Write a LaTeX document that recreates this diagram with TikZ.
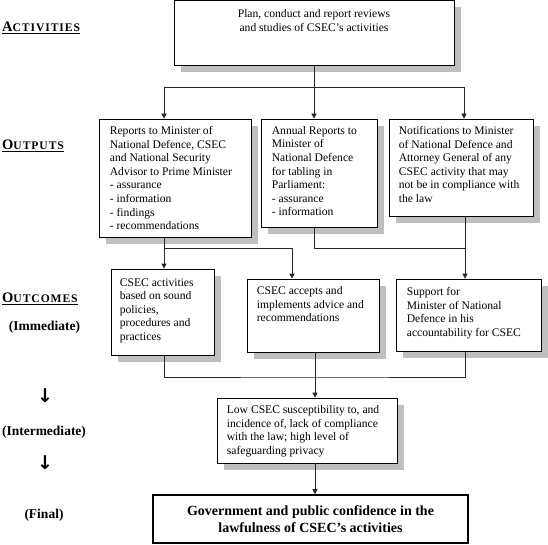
\documentclass[tikz,border=0pt]{standalone}
\usepackage{fontspec}
\setmainfont{Liberation Serif}
\newfontfamily\headfont[LetterSpace = 8]{Liberation Serif}
\newfontfamily\arrowfont{DejaVu Sans}
\usetikzlibrary{arrows.meta, shadows}

\newsavebox\headbox
\newcommand{\heading}[2]{\sbox\headbox{\headfont\bfseries{\fontsize{14.5}{16}\selectfont #1}{\fontsize{11.6}{13}\selectfont #2}}\vtop{\copy\headbox \kern 1pt \hrule height 1.3pt width \wd\headbox}}

\begin{document}
\begin{tikzpicture}[> = {Triangle[length = 5pt, width = 5pt]}, x = 1pt, y = -1pt,
	box/.style = {draw, fill = white, line width = 0.7pt, inner sep = 0pt, drop shadow = {shadow xshift = 7pt, shadow yshift = -7pt, fill = gray!50, opacity = 1}},
	txt/.style = {anchor = north west, inner sep = 0pt, align = left, font = \fontsize{11.6}{13.6}\selectfont},
	head/.style = {anchor = base west, inner sep = 0pt},
	stage/.style = {inner sep = 0pt, font = \fontsize{13.5}{16}\selectfont\bfseries},
	down/.style = {inner sep = 0pt, font = \fontsize{19}{20}\selectfont\arrowfont\bfseries},
	link/.style = {line width = 0.7pt, draw = black!85}]

	\useasboundingbox (0, 0) rectangle (548, 545);

	% Activities

	\node [box, minimum width = 280, minimum height = 64.5] (plan) at (314, 32.75) {};
	\node [txt, anchor = north, align = center] (plantext) at ([yshift = -9.5pt] plan.north) {Plan, conduct and report reviews\\and studies of CSEC’s activities};

	% Outputs

	\node [box, minimum width = 152, minimum height = 118] (report) at (175, 178) {};
	\node [box, minimum width = 116, minimum height = 108] (annual) at (319, 173) {};
	\node [box, minimum width = 144, minimum height = 97] (notify) at (461, 167.5) {};

	\node [txt] (reporttext) at ([xshift = 11pt, yshift = -7.5pt] report.north west) {Reports to Minister of\\National Defence, CSEC\\and National Security\\Advisor to Prime Minister\\- assurance\\- information\\- findings\\- recommendations};
	\node [txt] (annualtext) at ([xshift = 11pt, yshift = -7.5pt] annual.north west) {Annual Reports to\\Minister of\\National Defence\\for tabling in\\Parliament:\\- assurance\\- information};
	\node [txt] (notifytext) at ([xshift = 10pt, yshift = -7.5pt] notify.north west) {Notifications to Minister\\of National Defence and\\Attorney General of any\\CSEC activity that may\\not be in compliance with\\the law};

	% Outcomes

	\node [box, minimum width = 103, minimum height = 86] (sound) at (162.5, 312) {};
	\node [box, minimum width = 132, minimum height = 73] (accept) at (313, 315.5) {};
	\node [box, minimum width = 145, minimum height = 72] (support) at (468.5, 315) {};
	\node [box, minimum width = 180, minimum height = 65] (low) at (307, 430.5) {};
	\node [draw, fill = white, line width = 1.6pt, minimum width = 315, minimum height = 48, align = center, font = \fontsize{14}{17}\selectfont\bfseries] (trust) at (310.5, 519) {Government and public confidence in the\\lawfulness of CSEC’s activities};

	\node [txt] (soundtext) at ([xshift = 9pt, yshift = -9.5pt] sound.north west) {CSEC activities\\based on sound\\policies,\\procedures and\\practices};
	\node [txt] (accepttext) at ([xshift = 10pt, yshift = -7.5pt] accept.north west) {CSEC accepts and\\implements advice and\\recommendations};
	\node [txt] (supporttext) at ([xshift = 11pt, yshift = -8.5pt] support.north west) {Support for\\Minister of National\\Defence in his\\accountability for CSEC};
	\node [txt] (lowtext) at ([xshift = 10pt, yshift = -7.5pt] low.north west) {Low CSEC susceptibility to, and\\incidence of, lack of compliance\\with the law; high level of\\safeguarding privacy};

	% Activities to outputs

	\coordinate (fork) at (314, 87);
	\draw [link] (plan.south) -- (fork);
	\draw [link, ->] (fork) -| ([xshift = -11pt] report.north);
	\draw [link, ->] (fork) -- (annual.north -| fork);
	\draw [link, ->] (fork) -| ([xshift = 3pt] notify.north);

	% Outputs to outcomes

	\coordinate (leftfork) at (164, 248);
	\coordinate (rightfork) at (465, 248);
	\draw [link] (report.south -| leftfork) -- (leftfork);
	\draw [link, ->] (leftfork) -- (sound.north -| leftfork);
	\draw [link, ->] (leftfork) -| ([xshift = -21pt] accept.north);
	\draw [link] ([xshift = -5pt] annual.south) |- (rightfork);
	\draw [link, ->] (notify.south -| rightfork) -- (support.north -| rightfork);

	% Outcomes to final outcome

	\coordinate (join) at (315, 377);
	\draw [link] (sound.south -| leftfork) |- (join) -| (support.south -| rightfork);
	\draw [link, ->] (accept.south -| join) -- (low.north -| join);
	\draw [link, ->] (low.south -| join) -- (trust.north -| join);

	% Stage labels

	\node [head] (activities) at (2, 31.5) {\heading{A}{CTIVITIES}};
	\node [head] (outputs) at (2, 149.5) {\heading{O}{UTPUTS}};
	\node [head] (outcomes) at (2, 302.5) {\heading{O}{UTCOMES}};
	\node [stage] (immediate) at (44.5, 327) {(Immediate)};
	\node [down] (down1) at (45, 396) {↓};
	\node [stage] (intermediate) at (44, 432) {(Intermediate)};
	\node [down] (down2) at (45, 463) {↓};
	\node [stage] (final) at (44, 515) {(Final)};

\end{tikzpicture}
\end{document}
